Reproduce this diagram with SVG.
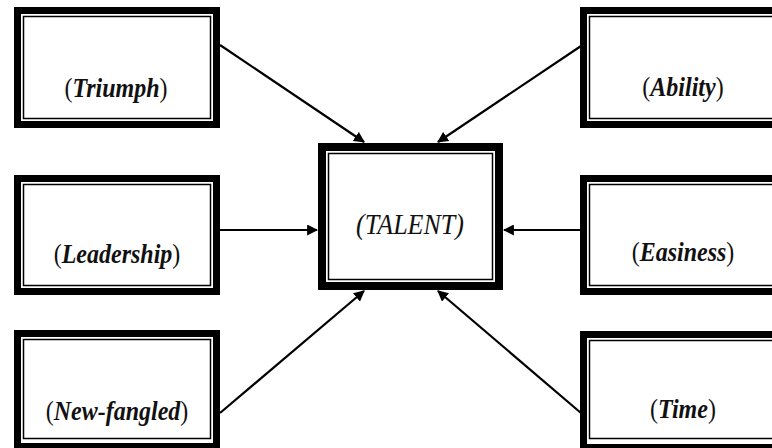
<svg xmlns="http://www.w3.org/2000/svg" width="772" height="448" viewBox="0 0 772 448">
<defs>
<style>
.band{fill:#fff;stroke:#000;stroke-width:7}
.line{fill:none;stroke:#000;stroke-width:1.5}
.lbl{font-family:"Liberation Serif","Times New Roman","DejaVu Serif",serif;font-size:24px;fill:#111;text-anchor:middle}
.w{font-weight:700;font-style:italic}
.c{font-family:"Liberation Serif","Times New Roman","DejaVu Serif",serif;font-size:26px;font-style:italic;fill:#111;text-anchor:middle}
.conn{stroke:#000;stroke-width:2.2;fill:none;marker-end:url(#ah)}
</style>
<marker id="ah" viewBox="0 0 10 10" refX="9" refY="5" markerWidth="5" markerHeight="5" orient="auto" markerUnits="strokeWidth">
<path d="M0,0 L10,5 L0,10 z" fill="#000"/>
</marker>
</defs>
<rect width="772" height="448" fill="#fff"/>
<g id="connectors">
<line class="conn" x1="220" y1="45" x2="364" y2="142"/>
<line class="conn" x1="581" y1="46" x2="438" y2="142"/>
<line class="conn" x1="220" y1="230" x2="317" y2="230"/>
<line class="conn" x1="581" y1="230" x2="504" y2="230"/>
<line class="conn" x1="220" y1="413" x2="364" y2="291"/>
<line class="conn" x1="581" y1="413" x2="438" y2="291"/>
</g>
<g id="talent">
<rect class="band" x="322" y="147" width="177" height="139" style="stroke-width:8"/>
<rect class="line" x="328.5" y="153.5" width="164" height="126"/>
<text class="c" transform="translate(410,234) scale(1,1.12)">(TALENT)</text>
</g>
<g id="triumph">
<rect class="band" x="17.5" y="10.5" width="199" height="114"/>
<rect class="line" x="23.5" y="16.5" width="187" height="102"/>
<text class="lbl" transform="translate(116,97) scale(1,1.15)">(<tspan class="w">Triumph</tspan>)</text>
</g>
<g id="leadership">
<rect class="band" x="17.5" y="178.5" width="199" height="113"/>
<rect class="line" x="23.5" y="184.5" width="187" height="101"/>
<text class="lbl" transform="translate(117,263) scale(1,1.15)">(<tspan class="w">Leadership</tspan>)</text>
</g>
<g id="newfangled">
<rect class="band" x="17.5" y="333.5" width="199" height="113"/>
<rect class="line" x="23.5" y="339.5" width="187" height="99"/>
<text class="lbl" transform="translate(117,420) scale(1,1.15)">(<tspan class="w">New-fangled</tspan>)</text>
</g>
<g id="ability">
<rect class="band" x="583.5" y="10.5" width="199" height="114"/>
<rect class="line" x="589.5" y="16.5" width="187" height="102"/>
<text class="lbl" transform="translate(683,96) scale(1,1.15)">(<tspan class="w">Ability</tspan>)</text>
</g>
<g id="easiness">
<rect class="band" x="583.5" y="178.5" width="199" height="113"/>
<rect class="line" x="589.5" y="184.5" width="187" height="101"/>
<text class="lbl" transform="translate(683,261) scale(1,1.15)">(<tspan class="w">Easiness</tspan>)</text>
</g>
<g id="time">
<rect class="band" x="583.5" y="334.5" width="199" height="113"/>
<rect class="line" x="589.5" y="340.5" width="187" height="98"/>
<text class="lbl" transform="translate(683,418) scale(1,1.15)">(<tspan class="w">Time</tspan>)</text>
</g>
</svg>
